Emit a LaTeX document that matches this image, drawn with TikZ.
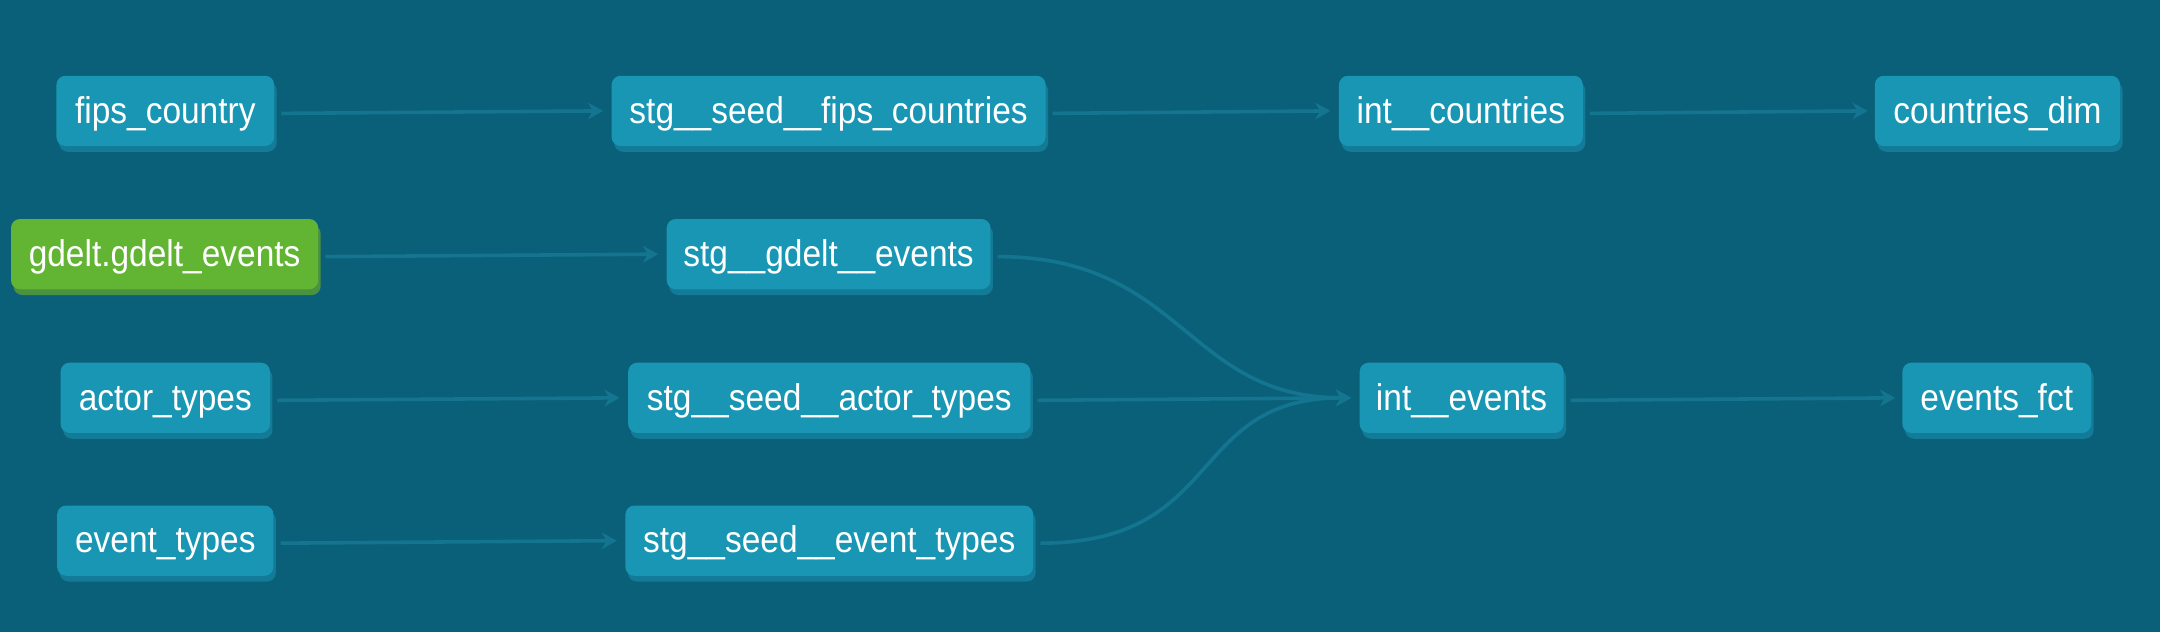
\documentclass[tikz,border=0pt]{standalone}
\usepackage{fontspec}
\setmainfont{Liberation Sans}[FakeStretch=0.9]
\usetikzlibrary{arrows.meta,shadows}
\definecolor{bgcol}{HTML}{0B6079}
\definecolor{nodecol}{HTML}{1896B4}
\definecolor{shcol}{HTML}{137B97}
\definecolor{edgecol}{HTML}{137590}
\definecolor{greencol}{HTML}{62B533}
\definecolor{greensh}{HTML}{4A9140}
\begin{document}
\begin{tikzpicture}[x=1pt,y=1pt,
  dbtbase/.style={rounded corners=6.5pt, text=white,
    font=\fontsize{27}{31}\selectfont, minimum height=51pt, inner sep=0pt,
    text height=19.5pt, text depth=1.7pt},
  model/.style={dbtbase, fill=nodecol,
    general shadow={fill=shcol, shadow xshift=1.8pt, shadow yshift=-4.2pt}},
  source/.style={dbtbase, fill=greencol,
    general shadow={fill=greensh, shadow xshift=1.8pt, shadow yshift=-4.2pt}},
  edge/.style={draw=edgecol, line width=2.6pt,
    -{Stealth[length=11pt,width=12pt,inset=3.5pt]}}]
\fill[bgcol] (0,0) rectangle (1568,459);
\useasboundingbox (0,0) rectangle (1568,459);
% row 1
\node[model, minimum width=158pt] (fips) at (120,378.5) {fips\_country};
\node[model, minimum width=315pt] (sfips) at (601.5,378.5) {stg\_\_seed\_\_fips\_countries};
\node[model, minimum width=177pt] (icountries) at (1060.5,378.5) {int\_\_countries};
\node[model, minimum width=178pt] (cdim) at (1450,378.5) {countries\_dim};
% row 2
\node[source, minimum width=223pt] (gdelt) at (119.5,274.5) {gdelt.gdelt\_events};
\node[model, minimum width=235pt] (sgdelt) at (601.5,274.5) {stg\_\_gdelt\_\_events};
% row 3
\node[model, minimum width=152pt] (actor) at (120,170.2) {actor\_types};
\node[model, minimum width=292pt] (sactor) at (602,170.2) {stg\_\_seed\_\_actor\_types};
\node[model, minimum width=148pt] (ievents) at (1061,170.2) {int\_\_events};
\node[model, minimum width=137pt] (efct) at (1449.5,170.2) {events\_fct};
% row 4
\node[model, minimum width=157pt] (etypes) at (120,66.5) {event\_types};
\node[model, minimum width=296pt] (setypes) at (602,66.5) {stg\_\_seed\_\_event\_types};
% edges
\draw[edge] ([xshift=5pt,yshift=-1.8pt]fips.east) -- ([xshift=-6pt]sfips.west);
\draw[edge] ([xshift=5pt,yshift=-1.8pt]sfips.east) -- ([xshift=-6pt]icountries.west);
\draw[edge] ([xshift=5pt,yshift=-1.8pt]icountries.east) -- ([xshift=-5pt]cdim.west);
\draw[edge] ([xshift=5pt,yshift=-1.8pt]gdelt.east) -- ([xshift=-6pt]sgdelt.west);
\draw[edge] ([xshift=5pt,yshift=-1.8pt]actor.east) -- ([xshift=-6pt]sactor.west);
\draw[edge] ([xshift=5pt,yshift=-1.8pt]etypes.east) -- ([xshift=-6pt]setypes.west);
\draw[edge] ([xshift=5pt,yshift=-1.8pt]sactor.east) -- ([xshift=-6pt]ievents.west);
\draw[edge] ([xshift=5pt,yshift=-1.8pt]sgdelt.east) .. controls +(135,0) and +(-120,0) .. ([xshift=-6pt]ievents.west);
\draw[edge] ([xshift=5pt,yshift=-1.8pt]setypes.east) .. controls +(135,0) and +(-120,0) .. ([xshift=-6pt]ievents.west);
\draw[edge] ([xshift=5pt,yshift=-1.8pt]ievents.east) -- ([xshift=-5pt]efct.west);
\end{tikzpicture}
\end{document}
